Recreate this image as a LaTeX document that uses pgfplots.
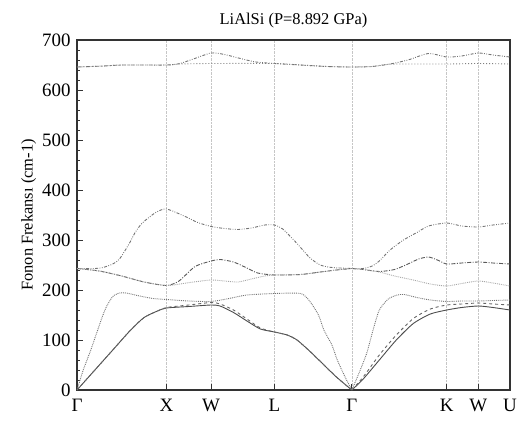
\documentclass[border=0pt]{standalone}
\usepackage{pgfplots}
\pgfplotsset{compat=1.18}
\usepackage{fontspec}
\setmainfont{Liberation Serif}
\begin{document}
\begin{tikzpicture}
\useasboundingbox (-77bp,-33bp) rectangle (443bp,390bp);
\begin{axis}[
  scale only axis, width=433bp, height=350bp,
  xmin=0, xmax=4.841, ymin=0, ymax=700,
  xtick={0,1,1.5,2.2071,3.0731,4.1338,4.4874,4.841},
  xticklabels={Γ,X,W,L,Γ,K,W,U},
  ytick={0,100,...,700},
  minor y tick num=4,
  tick pos=left, tick align=inside,
  major tick length=6bp, minor tick length=3.5bp,
  xmajorgrids, major grid style={densely dotted, gray!45, line width=0.5pt},
  axis line style={line width=1.1pt, black!80},
  every tick/.style={black!80, line width=0.8pt},
  /pgf/number format/assume math mode=true,
  tick label style={font=\fontsize{19}{21}\selectfont},
  yticklabel style={xshift=-3bp},
  xticklabel style={yshift=-6bp},
  ylabel={Fonon Frekansı (cm-1)},
  ylabel style={font=\fontsize{16.5}{18}\selectfont, yshift=-1bp},
  title={LiAlSi (P=8.892 GPa)},
  title style={font=\fontsize{16.5}{18}\selectfont, yshift=3bp},
  every axis plot/.append style={line width=0.9pt, smooth, tension=0.4},
]
% TA1 solid
\addplot[black!70] coordinates {(0,0)(0.2,40)(0.4,80)(0.6,120)(0.75,145)(0.9,158)(1.0,164)(1.25,167)(1.5,170)(1.6,168)(1.75,155)(1.9,138)(2.05,122)(2.2071,116)(2.35,110)(2.46,100)(2.6,78)(2.75,52)(2.9,26)(3.0731,0)};
\addplot[black!70] coordinates {(3.0731,0)(3.2,22)(3.38,60)(3.57,100)(3.76,133)(3.95,152)(4.1338,160)(4.3,165)(4.4874,168)(4.65,165)(4.841,160)};
% TA2 dashed
\addplot[black!60, dashed] coordinates {(0,0)(0.2,40)(0.4,80)(0.6,120)(0.75,145)(0.9,158)(1.0,165)(1.25,170)(1.5,175)(1.6,172)(1.75,160)(1.9,142)(2.05,124)(2.2071,116)(2.35,110)(2.46,100)(2.6,78)(2.75,52)(2.9,26)(3.0731,0)};
\addplot[black!60, dashed] coordinates {(3.0731,0)(3.2,26)(3.38,70)(3.57,110)(3.76,143)(3.95,162)(4.1338,170)(4.3,172)(4.4874,174)(4.65,172)(4.841,170)};
% LA dotted
\addplot[black!55, densely dotted] coordinates {(0,0)(0.07,40)(0.15,78)(0.22,114)(0.28,145)(0.33,167)(0.4,187)(0.475,194)(0.55,194)(0.7,188)(0.85,183)(1.0,181)(1.25,178)(1.5,177)(1.7,183)(1.9,190)(2.2071,193)(2.5,193)(2.6,178)(2.7,150)(2.76,120)(2.85,90)(2.91,60)(3.0,25)(3.0731,0)};
\addplot[black!55, densely dotted] coordinates {(3.0731,0)(3.16,37)(3.24,74)(3.31,120)(3.38,160)(3.48,182)(3.58,190)(3.66,191)(3.8,185)(3.95,180)(4.1338,177)(4.3,178)(4.4874,178)(4.65,179)(4.841,180)};
% Mode A dash-dot-dot
\addplot[black!55, dash pattern=on 3pt off 1.5pt on 0.8pt off 1.5pt on 0.8pt off 1.5pt] coordinates {(0,243)(0.2,243)(0.29,245)(0.4,252)(0.475,262)(0.585,293)(0.65,315)(0.73,334)(0.88,355)(1.0,362)(1.21,347)(1.35,335)(1.5,327)(1.65,323)(1.8,321)(1.95,324)(2.1,330)(2.2071,330)(2.3,322)(2.46,293)(2.6,265)(2.72,250)(2.85,245)(3.0731,243)};
\addplot[black!55, dash pattern=on 3pt off 1.5pt on 0.8pt off 1.5pt on 0.8pt off 1.5pt] coordinates {(3.0731,243)(3.2,243)(3.3,248)(3.38,258)(3.5,280)(3.65,300)(3.8,315)(3.93,328)(4.1338,334)(4.3,328)(4.4874,326)(4.65,330)(4.841,334)};
% Mode B dash-dot
\addplot[black!65, dash pattern=on 4pt off 1.5pt on 1pt off 1.5pt] coordinates {(0,243)(0.25,238)(0.5,228)(0.75,216)(1.0,209)(1.14,218)(1.32,247)(1.5,258)(1.6,261)(1.75,256)(1.9,244)(2.02,234)(2.2071,230)(2.5,231)(2.72,236)(2.9,240)(3.0731,243)};
\addplot[black!65, dash pattern=on 4pt off 1.5pt on 1pt off 1.5pt] coordinates {(3.0731,243)(3.2,241)(3.38,237)(3.55,241)(3.7,252)(3.82,262)(3.93,266)(4.03,260)(4.1338,252)(4.3,254)(4.4874,256)(4.65,254)(4.841,252)};
% Mode C light
\addplot[black!35, densely dotted] coordinates {(0,243)(0.25,238)(0.5,228)(0.75,216)(1.0,209)(1.15,212)(1.3,216)(1.5,220)(1.65,218)(1.8,216)(1.95,222)(2.1,228)(2.2071,230)(2.5,231)(2.72,236)(2.9,240)(3.0731,243)};
\addplot[black!35, densely dotted] coordinates {(3.0731,243)(3.2,241)(3.38,236)(3.55,228)(3.76,220)(3.95,212)(4.1338,208)(4.3,213)(4.4874,218)(4.65,214)(4.841,208)};
% Top D
\addplot[black!55, dash pattern=on 3pt off 1.5pt on 0.8pt off 1.5pt on 0.8pt off 1.5pt] coordinates {(0,646)(0.3,648)(0.5,650)(1.0,650)(1.15,653)(1.3,662)(1.5,674)(1.65,671)(1.85,662)(2.0,656)(2.2071,653)(2.5,650)(2.8,647)(3.0731,646)(3.3,647)(3.5,652)(3.7,660)(3.93,673)(4.1338,666)(4.3,668)(4.4874,674)(4.65,670)(4.841,666)};
% Top E
\addplot[black!50, dash pattern=on 1pt off 2pt] coordinates {(0,646)(0.3,648)(0.5,650)(1.0,650)(1.15,652)(1.5,653)(2.2071,653)(2.5,650)(2.8,647)(3.0731,646)(3.3,647)(3.45,651)(3.6,652)(4.1338,652)(4.4874,653)(4.841,652)};
\end{axis}
\end{tikzpicture}
\end{document}
